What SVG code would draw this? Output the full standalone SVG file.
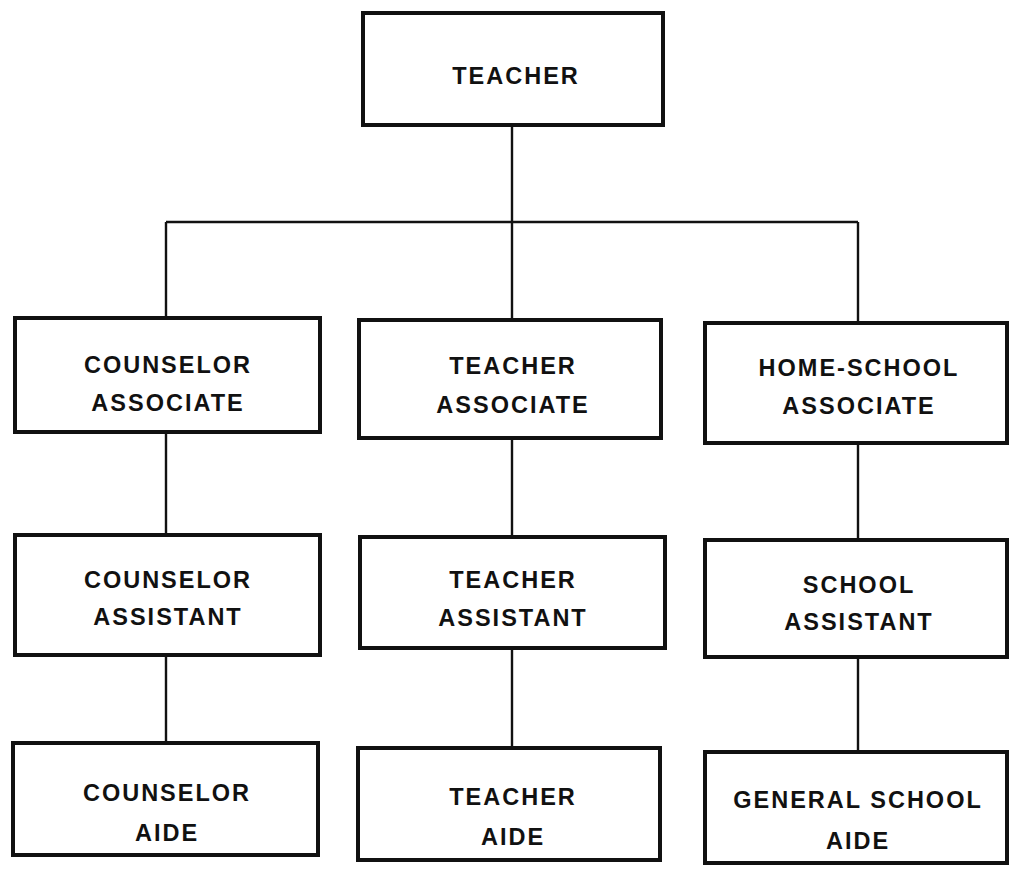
<svg xmlns="http://www.w3.org/2000/svg" width="1014" height="870" viewBox="0 0 1014 870">
<style>
.box{fill:#fff;stroke:#111;stroke-width:4}
.lbl{font-family:"Liberation Sans",Arial,sans-serif;font-weight:bold;font-size:23.5px;letter-spacing:2px;fill:#111;text-anchor:middle}
.con{stroke:#111;stroke-width:2.4;fill:none}
</style>
<rect width="1014" height="870" fill="#fff"/>
<g id="connectors">
<path class="con" d="M512 125 V320 M166 222 H858 M166 222 V318 M858 222 V323"/>
<path class="con" d="M166 432 V535 M512 438 V537 M858 443 V540"/>
<path class="con" d="M166 655 V743 M512 648 V748 M858 657 V752"/>
</g>
<g id="teacher"><rect class="box" x="363" y="13" width="300" height="112"/><text class="lbl" x="516" y="84">TEACHER</text></g>
<g id="counselor-associate"><rect class="box" x="15" y="318" width="305" height="114"/><text class="lbl" x="168" y="373">COUNSELOR</text><text class="lbl" x="168" y="411">ASSOCIATE</text></g>
<g id="teacher-associate"><rect class="box" x="359" y="320" width="302" height="118"/><text class="lbl" x="513" y="374">TEACHER</text><text class="lbl" x="513" y="413">ASSOCIATE</text></g>
<g id="home-school-associate"><rect class="box" x="705" y="323" width="302" height="120"/><text class="lbl" x="859" y="376">HOME-SCHOOL</text><text class="lbl" x="859" y="414">ASSOCIATE</text></g>
<g id="counselor-assistant"><rect class="box" x="15" y="535" width="305" height="120"/><text class="lbl" x="168" y="588">COUNSELOR</text><text class="lbl" x="168" y="625">ASSISTANT</text></g>
<g id="teacher-assistant"><rect class="box" x="360" y="537" width="305" height="111"/><text class="lbl" x="513" y="588">TEACHER</text><text class="lbl" x="513" y="626">ASSISTANT</text></g>
<g id="school-assistant"><rect class="box" x="705" y="540" width="302" height="117"/><text class="lbl" x="859" y="593">SCHOOL</text><text class="lbl" x="859" y="630">ASSISTANT</text></g>
<g id="counselor-aide"><rect class="box" x="13" y="743" width="305" height="112"/><text class="lbl" x="167" y="801">COUNSELOR</text><text class="lbl" x="167" y="841">AIDE</text></g>
<g id="teacher-aide"><rect class="box" x="358" y="748" width="302" height="112"/><text class="lbl" x="513" y="805">TEACHER</text><text class="lbl" x="513" y="845">AIDE</text></g>
<g id="general-school-aide"><rect class="box" x="705" y="752" width="302" height="111"/><text class="lbl" x="858" y="808">GENERAL SCHOOL</text><text class="lbl" x="858" y="849">AIDE</text></g>
</svg>
